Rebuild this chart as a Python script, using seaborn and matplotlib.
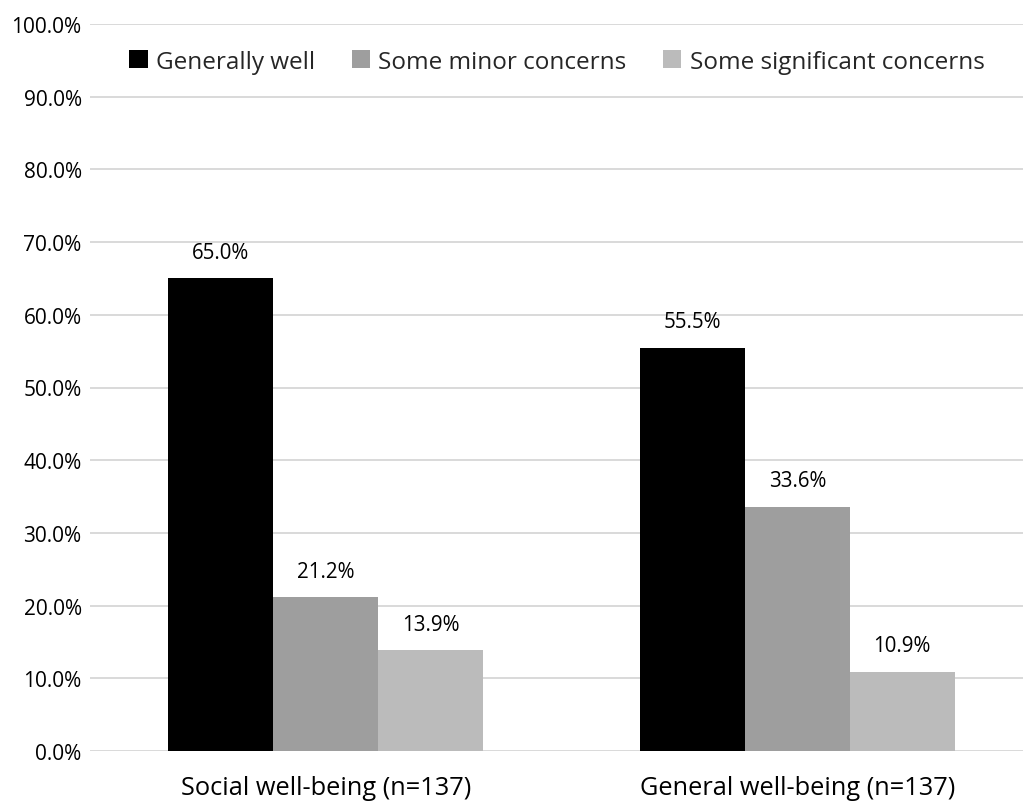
import matplotlib
matplotlib.use("Agg")
import matplotlib.pyplot as plt
import seaborn as sns
import pandas as pd
from matplotlib.ticker import FuncFormatter

categories = ["Social well-being (n=137)", "General well-being (n=137)"]
series = ["Generally well", "Some minor concerns", "Some significant concerns"]
generally_well = [65.0, 55.5]
minor_concerns = [21.2, 33.6]
significant_concerns = [13.9, 10.9]
colors = ["#000000", "#9e9e9e", "#bbbbbb"]

rows = []
for name, vals in zip(series, [generally_well, minor_concerns, significant_concerns]):
    for cat, v in zip(categories, vals):
        rows.append({"category": cat, "series": name, "value": v})
df = pd.DataFrame(rows)

sns.set_theme(style="white")
plt.rcParams["font.family"] = ["Open Sans", "DejaVu Sans"]

fig = plt.figure(figsize=(10.23, 8.04), dpi=100)
ax = fig.add_axes([90 / 1023, 1 - 752 / 804, 943 / 1023, (752 - 25) / 804])

sns.barplot(data=df, x="category", y="value", hue="series", order=categories,
            hue_order=series, palette=colors, width=0.668, saturation=1,
            linewidth=0, ax=ax, zorder=3)

ax.set_ylim(0, 100)
ax.set_yticks(range(0, 101, 10))
ax.yaxis.set_major_formatter(FuncFormatter(lambda v, _: f"{v:.1f}%"))
ax.grid(axis="y", color="#d9d9d9", linewidth=1.4, zorder=0)
ax.set_axisbelow(True)
for s in ax.spines.values():
    s.set_visible(False)
ax.tick_params(axis="y", labelsize=15, length=0, pad=6, colors="#000000")
ax.tick_params(axis="x", labelsize=18.3, length=0, pad=17, colors="#000000")
ax.set_xlabel("")
ax.set_ylabel("")

for container in ax.containers:
    ax.bar_label(container, labels=[f"{v:.1f}%" for v in container.datavalues],
                 padding=11, fontsize=14.8, color="#000000")

ax.legend(loc="upper center", bbox_to_anchor=(557 / 1023, 1 - 41 / 804),
          bbox_transform=fig.transFigure, ncol=3, frameon=False, fontsize=17.5,
          handlelength=0.75, handleheight=0.75, handletextpad=0.35,
          columnspacing=1.5, borderaxespad=0)

fig.savefig("out.png", dpi=100)
